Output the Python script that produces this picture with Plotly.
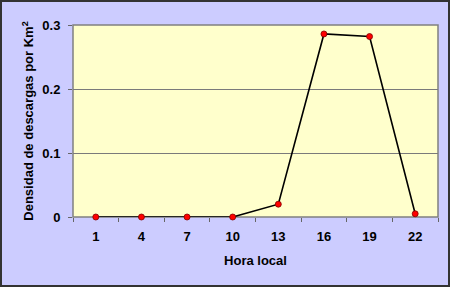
import plotly.graph_objects as go

horas = ["1", "4", "7", "10", "13", "16", "19", "22"]
densidad = [0.0, 0.0, 0.0, 0.0, 0.02, 0.286, 0.282, 0.005]
y_ticks = [0, 0.1, 0.2, 0.3]
y_labels = ["0", "0.1", "0.2", "0.3"]

FAM = "Liberation Sans, Arial, sans-serif"

fig = go.Figure()
fig.add_trace(go.Scatter(
    x=horas, y=densidad, mode="lines+markers",
    line=dict(color="black", width=1.6),
    marker=dict(color="#FF0000", size=6, line=dict(color="#800000", width=0.8)),
    cliponaxis=False,
))

fig.update_layout(
    width=450, height=287,
    margin=dict(l=73, r=12, t=25, b=70, autoexpand=False),
    paper_bgcolor="#CCCCFF",
    plot_bgcolor="#FFFFCC",
    showlegend=False,
    font=dict(family=FAM, size=13, color="black"),
    xaxis=dict(
        type="category", tickson="boundaries", ticks="outside", ticklen=4,
        tickcolor="#666666", showgrid=False, showline=False, zeroline=False,
        automargin=False, ticklabelstandoff=10,
        tickfont=dict(family=FAM, size=13, color="black", weight="bold"),
        title=dict(text="<b>Hora local</b>", standoff=12,
                   font=dict(family=FAM, size=13, color="black")),
        range=[-0.5, 7.5],
    ),
    yaxis=dict(
        range=[0, 0.3], tickvals=y_ticks, ticktext=y_labels,
        ticks="outside", ticklen=4, tickcolor="#666666",
        showgrid=True, gridcolor="#7A7A7A", gridwidth=1.3,
        zeroline=False, showline=False, automargin=False, ticklabelstandoff=5,
        tickfont=dict(family=FAM, size=13, color="black", weight="bold"),
        title=dict(text="<b>Densidad de descargas por Km<sup>2</sup></b>", standoff=5,
                   font=dict(family=FAM, size=13, color="black")),
    ),
    shapes=[
        dict(type="rect", xref="paper", yref="paper", x0=0, x1=1, y0=0, y1=1,
             line=dict(color="#808080", width=1.5), layer="below"),
        dict(type="rect", xref="paper", yref="paper",
             x0=(1 - 73) / 365, x1=(449 - 73) / 365, y0=(217 - 286) / 192, y1=(217 - 1) / 192,
             line=dict(color="#333333", width=2)),
    ],
)

fig.write_html("out.html", config={"displayModeBar": False},
               post_script="document.body.style.margin='0';document.body.style.padding='0';")
